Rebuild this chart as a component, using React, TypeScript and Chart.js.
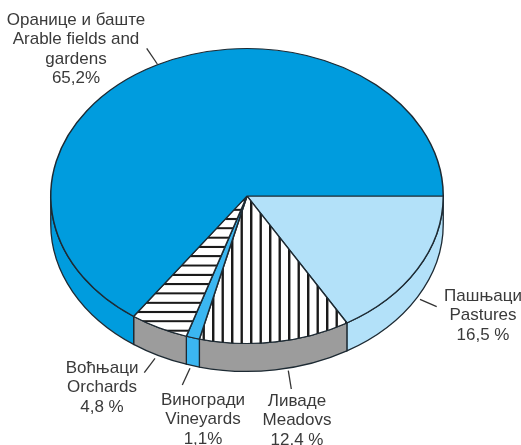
import React, { useEffect, useRef } from "react";
import { Chart, registerables } from "chart.js";

Chart.register(...registerables);

const categories = ["Пашњаци / Pastures", "Ливаде / Meadovs", "Виногради / Vineyards", "Воћњаци / Orchards", "Оранице и баште / Arable fields and gardens"];
const shares = [16.5, 12.4, 1.1, 4.8, 65.2];

const labelPastures = ["Пашњаци", "Pastures", "16,5 %"];
const labelMeadows = ["Ливаде", "Meadovs", "12,4 %"];
const labelVineyards = ["Виногради", "Vineyards", "1,1%"];
const labelOrchards = ["Воћњаци", "Orchards", "4,8 %"];
const labelArable = ["Оранице и баште", "Arable fields and", "gardens", "65,2%"];

const BLUE = "#009cde";
const LIGHT = "#b3e1f9";
const MID = "#3bb6f1";
const GREY = "#9c9c9c";
const EDGE = "#1d2a33";
const INK = "#3a3a3a";

const W = 521;
const H = 445;
const CX = 247;
const CY_SCREEN = 196;
const RX = 197;
const RY = 148;
const DEPTH = 28;
const K = RY / RX;

const annotations = [
  { lines: labelPastures, x: 483, y: 296, lead: [420, 299.3, 436.7, 306.7] },
  { lines: labelMeadows, x: 297, y: 401, lead: [288.3, 370.7, 291.3, 389] },
  { lines: labelVineyards, x: 203, y: 400, lead: [190, 368.3, 182.3, 385] },
  { lines: labelOrchards, x: 102, y: 368, lead: [155, 358.3, 144.3, 372.7] },
  { lines: labelArable, x: 76, y: 20, lead: [146.7, 48.3, 157.3, 64] },
];

function verticalHatch(ctx: CanvasRenderingContext2D) {
  const t = document.createElement("canvas");
  t.width = 19;
  t.height = 4;
  const c = t.getContext("2d")!;
  c.fillStyle = "#ffffff";
  c.fillRect(0, 0, 19, 4);
  c.fillStyle = "#1a1a1a";
  c.fillRect(3, 0, 2.4, 4);
  c.fillRect(12.5, 0, 2.4, 4);
  return ctx.createPattern(t, "repeat")!;
}

function horizontalHatch(ctx: CanvasRenderingContext2D, cy: number) {
  const t = document.createElement("canvas");
  t.width = 4;
  t.height = 20;
  const c = t.getContext("2d")!;
  c.fillStyle = "#ffffff";
  c.fillRect(0, 0, 4, 20);
  c.fillStyle = "#1a1a1a";
  c.fillRect(0, 7.8, 4, 4.4);
  const p = ctx.createPattern(t, "repeat")!;
  const tile = 9.3 / K;
  const lineY = cy + (302.7 - CY_SCREEN) / K;
  const ty = ((lineY - tile / 2) % tile);
  p.setTransform(new DOMMatrix().translate(0, ty).scale(1, tile / 20));
  return p;
}

const pie3d = {
  id: "pie3d",
  beforeDatasetsDraw(chart: any) {
    const ctx: CanvasRenderingContext2D = chart.ctx;
    const meta = chart.getDatasetMeta(0);
    const wall = [LIGHT, GREY, MID, GREY, BLUE];
    ctx.save();
    meta.data.forEach((arc: any, i: number) => {
      const a0 = Math.max(arc.startAngle, 0);
      const a1 = Math.min(arc.endAngle, Math.PI);
      if (a1 <= a0) return;
      const rx = arc.outerRadius;
      const ry = rx * K;
      ctx.beginPath();
      ctx.ellipse(arc.x, CY_SCREEN, rx, ry, 0, a0, a1);
      ctx.ellipse(arc.x, CY_SCREEN + DEPTH, rx, ry, 0, a1, a0, true);
      ctx.closePath();
      ctx.fillStyle = wall[i];
      ctx.fill();
      ctx.lineWidth = 1.3;
      ctx.strokeStyle = EDGE;
      ctx.stroke();
    });
    ctx.restore();
    ctx.save();
    const cy = meta.data[0].y;
    ctx.translate(0, CY_SCREEN);
    ctx.scale(1, K);
    ctx.translate(0, -cy);
  },
  afterDatasetsDraw(chart: any) {
    chart.ctx.restore();
  },
  afterDraw(chart: any) {
    const ctx: CanvasRenderingContext2D = chart.ctx;
    ctx.save();
    ctx.font = '17px "Liberation Sans"';
    ctx.fillStyle = INK;
    ctx.strokeStyle = "#333333";
    ctx.lineWidth = 1.3;
    ctx.textAlign = "center";
    ctx.textBaseline = "middle";
    for (const a of annotations) {
      a.lines.forEach((s, i) => ctx.fillText(s, a.x, a.y + i * 19.6));
      ctx.beginPath();
      ctx.moveTo(a.lead[0], a.lead[1]);
      ctx.lineTo(a.lead[2], a.lead[3]);
      ctx.stroke();
    }
    ctx.restore();
  },
};

export default function App() {
  const ref = useRef<HTMLCanvasElement>(null);
  useEffect(() => {
    const canvas = ref.current!;
    const ctx = canvas.getContext("2d")!;
    const padTop = 0;
    const cy = padTop + RX;
    const chart = new Chart(canvas, {
      type: "pie",
      data: {
        labels: categories,
        datasets: [
          {
            data: shares,
            backgroundColor: [LIGHT, verticalHatch(ctx), MID, horizontalHatch(ctx, cy), BLUE],
            borderColor: EDGE,
            borderWidth: 1.5,
            clip: false,
          } as any,
        ],
      },
      options: {
        responsive: false,
        animation: false,
        rotation: 90,
        layout: { padding: { left: CX - RX, right: W - CX - RX, top: padTop, bottom: H - 2 * RX - padTop } },
        plugins: { legend: { display: false }, tooltip: { enabled: false } },
      },
      plugins: [pie3d],
    });
    return () => chart.destroy();
  }, []);
  return (
    <div style={{ position: "absolute", left: 0, top: 0, width: W, height: H, background: "#fff" }}>
      <canvas ref={ref} width={W} height={H} style={{ display: "block" }} />
    </div>
  );
}
